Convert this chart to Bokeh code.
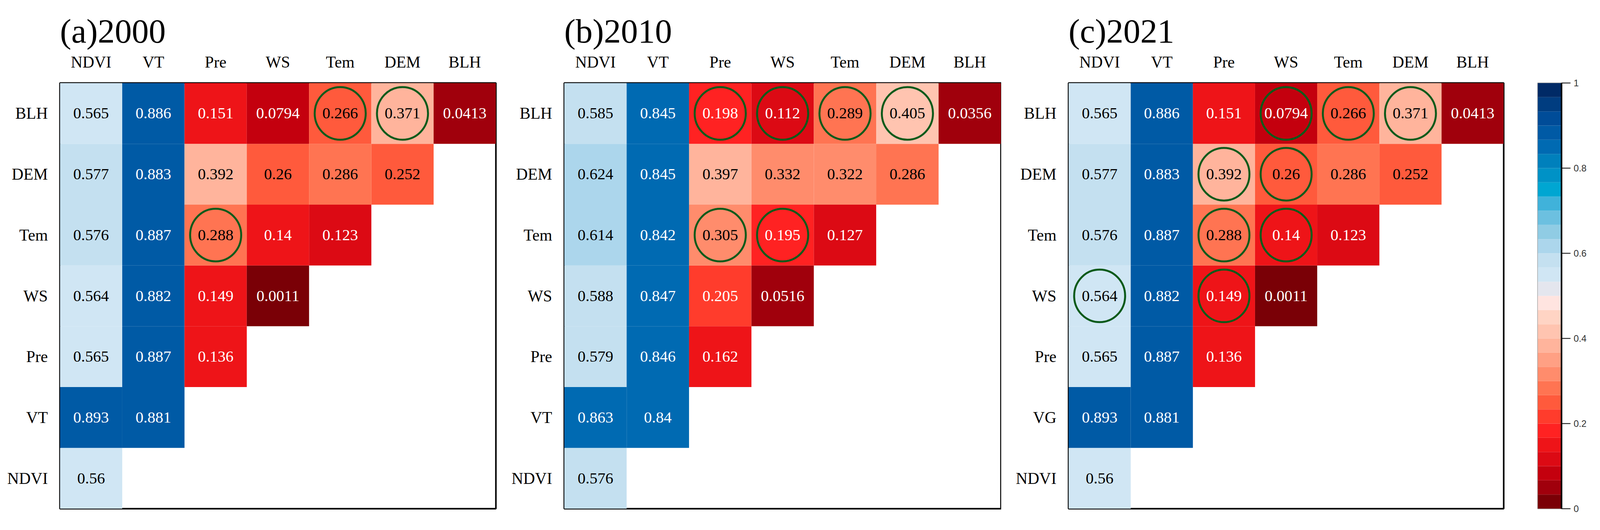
from bokeh.plotting import figure
from bokeh.models import (FactorRange, Range1d, LinearColorMapper, ColumnDataSource,
                          FixedTicker, LinearAxis)
from bokeh.layouts import row
from bokeh.transform import transform
from bokeh.core.properties import value
from bokeh.embed import file_html
from bokeh.resources import INLINE

# ---------------- data ----------------
COLS = ["NDVI", "VT", "Pre", "WS", "Tem", "DEM", "BLH"]
ROWS_AB = ["NDVI", "VT", "Pre", "WS", "Tem", "DEM", "BLH"]   # bottom -> top
ROWS_C = ["NDVI", "VG", "Pre", "WS", "Tem", "DEM", "BLH"]

TITLES = ["(a)2000", "(b)2010", "(c)2021"]

BLH_2000 = [0.565, 0.886, 0.151, 0.0794, 0.266, 0.371, 0.0413]
DEM_2000 = [0.577, 0.883, 0.392, 0.26, 0.286, 0.252]
TEM_2000 = [0.576, 0.887, 0.288, 0.14, 0.123]
WS_2000 = [0.564, 0.882, 0.149, 0.0011]
PRE_2000 = [0.565, 0.887, 0.136]
VT_2000 = [0.893, 0.881]
NDVI_2000 = [0.56]

BLH_2010 = [0.585, 0.845, 0.198, 0.112, 0.289, 0.405, 0.0356]
DEM_2010 = [0.624, 0.845, 0.397, 0.332, 0.322, 0.286]
TEM_2010 = [0.614, 0.842, 0.305, 0.195, 0.127]
WS_2010 = [0.588, 0.847, 0.205, 0.0516]
PRE_2010 = [0.579, 0.846, 0.162]
VT_2010 = [0.863, 0.84]
NDVI_2010 = [0.576]

BLH_2021 = [0.565, 0.886, 0.151, 0.0794, 0.266, 0.371, 0.0413]
DEM_2021 = [0.577, 0.883, 0.392, 0.26, 0.286, 0.252]
TEM_2021 = [0.576, 0.887, 0.288, 0.14, 0.123]
WS_2021 = [0.564, 0.882, 0.149, 0.0011]
PRE_2021 = [0.565, 0.887, 0.136]
VG_2021 = [0.893, 0.881]
NDVI_2021 = [0.56]

CIRCLES_2000 = [("BLH", "Tem"), ("BLH", "DEM"), ("Tem", "Pre")]
CIRCLES_2010 = [("BLH", "Pre"), ("BLH", "WS"), ("BLH", "Tem"), ("BLH", "DEM"),
                ("Tem", "Pre"), ("Tem", "WS")]
CIRCLES_2021 = [("BLH", "WS"), ("BLH", "Tem"), ("BLH", "DEM"), ("DEM", "Pre"),
                ("DEM", "WS"), ("Tem", "Pre"), ("Tem", "WS"), ("WS", "NDVI"),
                ("WS", "Pre")]

CB_TICKS = [0, 0.2, 0.4, 0.6, 0.8, 1]

# ---------------- style ----------------
PALETTE = ["#7a0006", "#a0000c", "#c4000e", "#dc0a14", "#ee1418", "#ff2222",
           "#ff3c2c", "#ff5a3c", "#ff7452", "#ff8c6c", "#ffa084", "#ffb49c",
           "#ffc4b0", "#ffd4c4", "#ffe4e0", "#e4e6ee", "#d0e6f4", "#c4e0f0",
           "#acd6ec", "#90cce4", "#6cc0e0", "#40b2da", "#00a6d2", "#0092c6",
           "#0080bc", "#006ab2", "#005aa5", "#004c98", "#003d80", "#002a66"]
SERIF = "Liberation Serif"
SX = 0.984   # horizontal size factor
SF = 0.99    # font size factor


def px(v):
    return int(round(v * SX))


def fs(v):
    return "%.1fpx" % (v * SF)


FRAME_H = 1090
TOP = 212
BOTTOM = 30
mapper = LinearColorMapper(palette=PALETTE, low=0, high=1)


def panel(title, rows, row_vals, circles, left, frame_w, right):
    xs, ys, vs, labels, tcol = [], [], [], [], []
    for rname, vals in zip(rows, row_vals):
        for j, v in enumerate(vals):
            xs.append(COLS[j])
            ys.append(rname)
            vs.append(v)
            labels.append(format(v, ".3g"))
            tcol.append("white" if (v < 0.23 or v > 0.75) else "black")
    src = ColumnDataSource(dict(x=xs, y=ys, v=vs, label=labels, tc=tcol))
    p = figure(x_range=FactorRange(*COLS), y_range=FactorRange(*rows),
               x_axis_location="above", frame_width=px(frame_w), frame_height=FRAME_H,
               min_border_left=px(left), min_border_right=px(right),
               min_border_top=TOP, min_border_bottom=BOTTOM,
               output_backend="svg", toolbar_location=None, title=title)
    p.rect(x="x", y="y", width=1, height=1, source=src,
           fill_color=transform("v", mapper), line_color=None)
    p.text(x="x", y="y", text="label", source=src, text_color="tc",
           text_align="center", text_baseline="middle",
           text_font=value(SERIF), text_font_size=fs(41))
    cx = [c for (_, c) in circles]
    cy = [r for (r, _) in circles]
    p.ellipse(x=cx, y=cy, width=0.82, height=0.865, fill_color=None,
              line_color="#0b5a1a", line_width=5)
    p.grid.visible = False
    p.outline_line_color = "black"
    p.outline_line_width = 4
    p.outline_line_alpha = 1
    for ax in (p.xaxis, p.yaxis):
        ax.axis_line_color = None
        ax.major_tick_line_color = None
        ax.minor_tick_line_color = None
        ax.major_tick_out = 0
        ax.major_tick_in = 0
        ax.minor_tick_out = 0
        ax.minor_tick_in = 0
        ax.major_label_text_font = SERIF
        ax.major_label_text_font_size = fs(42)
        ax.major_label_text_color = "black"
    p.xaxis.major_label_standoff = 31
    p.yaxis.major_label_standoff = px(31)
    p.title.text_font = SERIF
    p.title.text_font_size = fs(88)
    p.title.text_font_style = "normal"
    p.title.text_color = "black"
    p.title.align = "left"
    p.background_fill_color = "white"
    p.border_fill_color = "white"
    return p


pa = panel(TITLES[0], ROWS_AB,
           [NDVI_2000, VT_2000, PRE_2000, WS_2000, TEM_2000, DEM_2000, BLH_2000],
           CIRCLES_2000, 155, 1134, 3)
pb = panel(TITLES[1], ROWS_AB,
           [NDVI_2010, VT_2010, PRE_2010, WS_2010, TEM_2010, DEM_2010, BLH_2010],
           CIRCLES_2010, 175, 1136, 1)
pc = panel(TITLES[2], ROWS_C,
           [NDVI_2021, VG_2021, PRE_2021, WS_2021, TEM_2021, DEM_2021, BLH_2021],
           CIRCLES_2021, 175, 1132, 8)

# ---------------- colour bar ----------------
n = len(PALETTE)
cb_src = ColumnDataSource(dict(bottom=[i / n for i in range(n)],
                               top=[(i + 1) / n for i in range(n)],
                               color=PALETTE))
pcb = figure(x_range=Range1d(0, 1), y_range=Range1d(0, 1),
             frame_width=px(62), frame_height=FRAME_H,
             min_border_left=px(80), min_border_right=px(66),
             min_border_top=TOP, min_border_bottom=BOTTOM,
             x_axis_location=None, y_axis_location=None,
             output_backend="svg", toolbar_location=None)
pcb.quad(left=0, right=1, bottom="bottom", top="top", fill_color="color",
         line_color=None, source=cb_src)
pcb.grid.visible = False
pcb.outline_line_color = "#999999"
pcb.outline_line_width = 2
pcb.border_fill_color = "white"
ax = LinearAxis(ticker=FixedTicker(ticks=CB_TICKS))
ax.axis_line_color = "black"
ax.axis_line_width = 4
ax.major_tick_out = px(23)
ax.major_tick_in = 0
ax.major_tick_line_width = 2
ax.minor_tick_line_color = None
ax.minor_tick_out = 0
ax.major_label_standoff = px(8)
ax.major_label_text_font = "Liberation Sans"
ax.major_label_text_font_size = fs(24)
ax.major_label_text_color = "#333333"
pcb.add_layout(ax, "right")

layout = row(pa, pb, pc, pcb)
open("out.html", "w").write(file_html(layout, INLINE))
